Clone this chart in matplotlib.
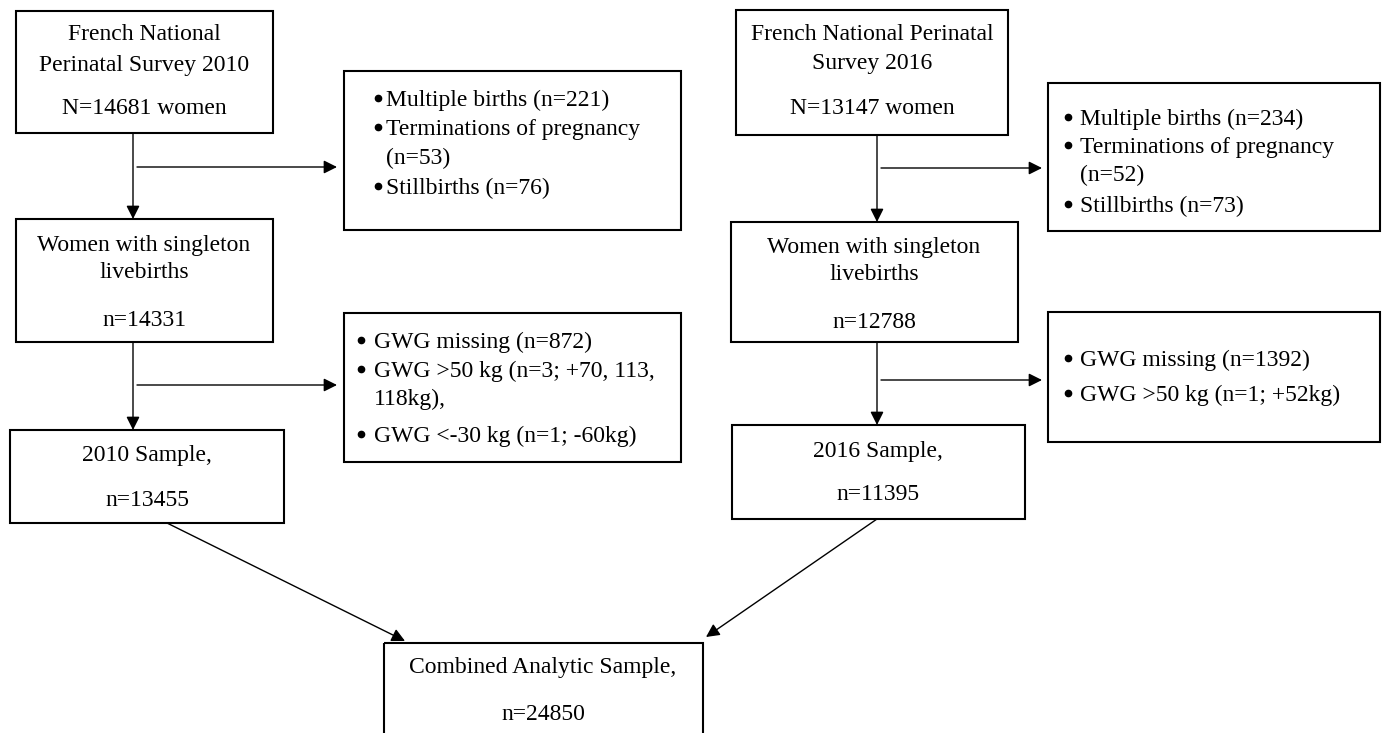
"""
Flowchart of the study sample selection (ENP 2010 and 2016).
"""

import matplotlib
matplotlib.use("Agg")
import matplotlib.pyplot as plt
from matplotlib.patches import Rectangle

# --- data ---------------------------------------------------------------
survey_years = [2010, 2016]
total_women = [14681, 13147]
singleton_n = [14331, 12788]
sample_n = [13455, 11395]
combined_n = 24850

excl_births_2010 = ["Multiple births (n=221)", "Terminations of pregnancy", "(n=53)", "Stillbirths (n=76)"]
excl_births_2016 = ["Multiple births (n=234)", "Terminations of pregnancy", "(n=52)", "Stillbirths (n=73)"]
excl_gwg_2010 = ["GWG missing (n=872)", "GWG >50 kg (n=3; +70, 113,", "118kg),", "GWG <-30 kg (n=1; -60kg)"]
excl_gwg_2016 = ["GWG missing (n=1392)", "GWG >50 kg (n=1; +52kg)"]
# which lines start with a bullet
bullets_births = [True, True, False, True]
bullets_gwg_2010 = [True, True, False, True]
bullets_gwg_2016 = [True, True]

FONT = "Liberation Serif"
FS = 17
DY = 2  # small nudge so text centres sit like the original

fig = plt.figure(figsize=(13.83, 7.33), dpi=100)
ax = fig.add_axes([0, 0, 1, 1])
ax.set_xlim(0, 1383)
ax.set_ylim(733, 0)
ax.axis("off")


def box(x0, y0, x1, y1):
    ax.add_patch(Rectangle((x0, y0), x1 - x0, y1 - y0, fill=False,
                           edgecolor="black", linewidth=1.5))


def centered(xc, ys, lines):
    for y, s in zip(ys, lines):
        ax.text(xc, y + DY, s, ha="center", va="center", fontsize=FS, family=FONT)


def bulleted(xb, xt, ys, lines, flags):
    for y, s, b in zip(ys, lines, flags):
        if b:
            ax.plot(xb, y + DY - 2, "o", color="black", ms=4.5)
        ax.text(xt, y + DY, s, ha="left", va="center", fontsize=FS, family=FONT)


def arrow(x0, y0, x1, y1):
    ax.annotate("", xy=(x1, y1), xytext=(x0, y0),
                arrowprops=dict(arrowstyle="-|>", color="black", lw=1.0,
                                mutation_scale=20, shrinkA=0, shrinkB=0))


# --- 2010 column --------------------------------------------------------
box(16, 11, 273, 133)
centered(144, [33, 63, 106], ["French National", f"Perinatal Survey {survey_years[0]}",
                              f"N={total_women[0]} women"])
box(344, 71, 681, 230)
bulleted(378, 386, [98, 127, 156, 186], excl_births_2010, bullets_births)
box(16, 219, 273, 342)
centered(144, [243, 270, 318], ["Women with singleton", "livebirths", f"n={singleton_n[0]}"])
box(344, 313, 681, 462)
bulleted(361, 374, [340, 369, 397, 434], excl_gwg_2010, bullets_gwg_2010)
box(10, 430, 284, 523)
centered(147, [453, 498], [f"{survey_years[0]} Sample,", f"n={sample_n[0]}"])

arrow(133, 133, 133, 219)
arrow(137, 167, 337, 167)
arrow(133, 342, 133, 430)
arrow(137, 385, 337, 385)

# --- 2016 column --------------------------------------------------------
box(736, 10, 1008, 135)
centered(872, [33, 62, 106], ["French National Perinatal", f"Survey {survey_years[1]}",
                              f"N={total_women[1]} women"])
box(1048, 83, 1380, 231)
bulleted(1068, 1080, [117, 145, 173, 204], excl_births_2016, bullets_births)
box(731, 222, 1018, 342)
centered(874, [246, 273, 320], ["Women with singleton", "livebirths", f"n={singleton_n[1]}"])
box(1048, 312, 1380, 442)
bulleted(1068, 1080, [358, 393], excl_gwg_2016, bullets_gwg_2016)
box(732, 425, 1025, 519)
centered(878, [449, 493], [f"{survey_years[1]} Sample,", f"n={sample_n[1]}"])

arrow(877, 135, 877, 222)
arrow(881, 168, 1042, 168)
arrow(877, 342, 877, 425)
arrow(881, 380, 1042, 380)

# --- combined -----------------------------------------------------------
box(384, 643, 703, 760)
centered(543, [665, 712], ["Combined Analytic Sample,", f"n={combined_n}"])
arrow(167, 523, 405, 641)
arrow(877, 519, 706, 637)

fig.savefig("out.png", dpi=100)
